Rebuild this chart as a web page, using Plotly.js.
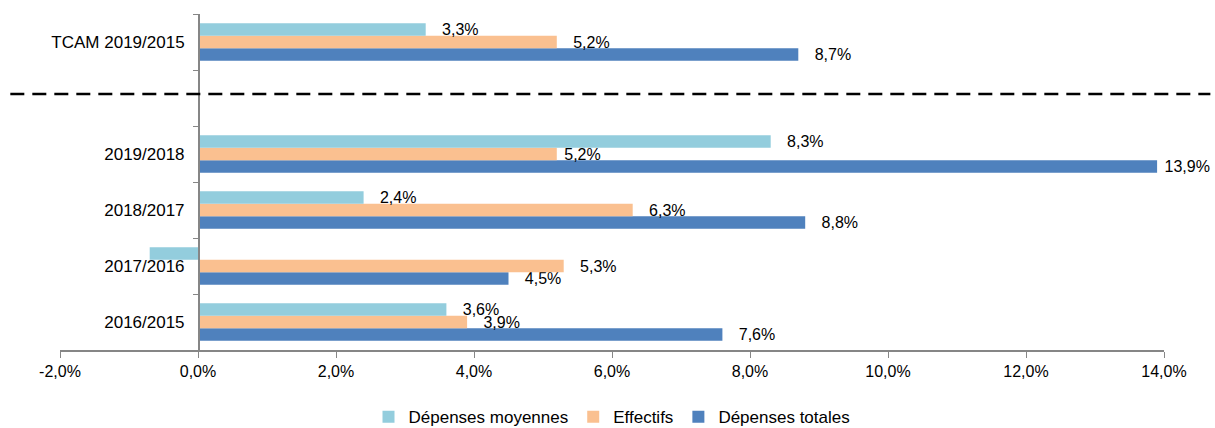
<!DOCTYPE html>
<html>
<head>
<meta charset="utf-8">
<script src="https://cdn.plot.ly/plotly-3.0.1.min.js"></script>
<style>html,body{margin:0;padding:0;background:#fff;}</style>
</head>
<body>
<div id="chart" style="width:1215px;height:428px;"></div>
<script>
// Categories (bottom to top) and the blank separator slot
const categories = ['2016/2015', '2017/2016', '2018/2017', '2019/2018', 'TCAM 2019/2015'];
const axisCategories = ['2016/2015', '2017/2016', '2018/2017', '2019/2018', ' ', 'TCAM 2019/2015'];
const separatorCategory = ' ';

// Series values (%)
const depensesMoyennes = [3.6, -0.7, 2.4, 8.3, 3.3];
const effectifs = [3.9, 5.3, 6.3, 5.2, 5.2];
const depensesTotales = [7.6, 4.5, 8.8, 13.9, 8.7];

// Series names
const seriesNames = ['Dépenses moyennes', 'Effectifs', 'Dépenses totales'];

// X axis ticks (%)
const xTicks = [-2, 0, 2, 4, 6, 8, 10, 12, 14];

// Label padding (number of spaces before each data label), presentation only
const padMoyennes = [3, 3, 3, 3, 3];
const padEffectifs = [3, 3, 3, 1, 3];
const padTotales = [3, 3, 3, 1, 3];

function fmt(v) { return v.toFixed(1).replace('.', ',') + '%'; }
function labels(vals, pads) {
  return vals.map((v, i) => v < 0 ? '' : '\u00a0'.repeat(pads[i]) + fmt(v));
}

const font = 'Liberation Sans, Arial, sans-serif';

function barTrace(name, vals, pads, color) {
  return {
    type: 'bar',
    orientation: 'h',
    name: name,
    x: vals,
    y: categories,
    text: labels(vals, pads),
    texttemplate: '%{text}',
    textposition: 'outside',
    constraintext: 'none',
    cliponaxis: false,
    textfont: {family: font, size: 16, color: '#000'},
    marker: {color: color, line: {width: 0}},
    hoverinfo: 'skip'
  };
}

// Plotly stacks horizontal grouped bars bottom-up in trace order
const data = [
  barTrace(seriesNames[2], depensesTotales, padTotales, '#4F81BD'),
  barTrace(seriesNames[1], effectifs, padEffectifs, '#FAC090'),
  barTrace(seriesNames[0], depensesMoyennes, padMoyennes, '#93CDDD')
];

const layout = {
  width: 1215,
  height: 428,
  margin: {l: 60, r: 51, t: 14, b: 78, autoexpand: false},
  paper_bgcolor: '#fff',
  plot_bgcolor: '#fff',
  separators: ', ',
  barmode: 'group',
  bargap: 0.333,
  bargroupgap: 0,
  showlegend: true,
  legend: {
    orientation: 'h',
    traceorder: 'reversed',
    x: 0.5, xanchor: 'center',
    y: -0.2, yanchor: 'middle',
    font: {family: font, size: 17, color: '#000'}
  },
  xaxis: {
    range: [-2, 14],
    tickmode: 'array',
    tickvals: xTicks,
    ticktext: xTicks.map(fmt),
    ticks: 'outside',
    ticklen: 6,
    tickcolor: '#868686',
    showline: true,
    linecolor: '#868686',
    linewidth: 1.5,
    showgrid: false,
    zeroline: false,
    tickfont: {family: font, size: 16, color: '#000'},
    fixedrange: true
  },
  yaxis: {
    type: 'category',
    categoryorder: 'array',
    categoryarray: axisCategories,
    anchor: 'free',
    position: 0.125,
    tickson: 'boundaries',
    ticks: 'outside',
    ticklen: 5,
    tickcolor: '#868686',
    showline: true,
    linecolor: '#868686',
    linewidth: 1.5,
    showgrid: false,
    zeroline: false,
    ticklabelstandoff: 10,
    tickfont: {family: font, size: 17, color: '#000'},
    fixedrange: true
  },
  shapes: [{
    type: 'line',
    xref: 'paper', yref: 'y',
    x0: -0.045, x1: 1.042,
    y0: separatorCategory, y1: separatorCategory,
    y0shift: 0.07, y1shift: 0.07,
    line: {color: '#000', width: 2.5, dash: '14px,8px'}
  }]
};

Plotly.newPlot('chart', data, layout, {displayModeBar: false, staticPlot: true});
</script>
</body>
</html>
